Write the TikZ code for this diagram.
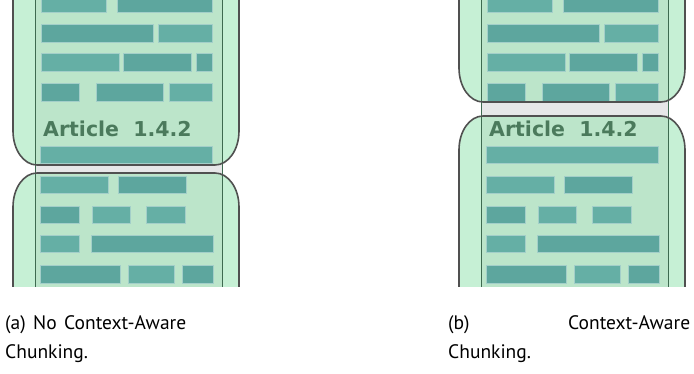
\documentclass[tikz,border=0pt]{standalone}
\usepackage{fontspec}
\setmainfont{PT Sans}
\newfontfamily\artfont{DejaVu Sans}
\definecolor{outerg}{HTML}{C6F0D5}
\definecolor{innerg}{HTML}{BCE5CA}
\definecolor{gapg}{HTML}{E6E7E8}
\definecolor{barA}{HTML}{5DA69E}
\definecolor{barB}{HTML}{65AFA5}
\definecolor{bord}{HTML}{505050}
\definecolor{coll}{HTML}{3E6A50}
\definecolor{artc}{HTML}{4B7A5C}
\tikzset{
  barA/.style={fill=barA, draw=barB!60!white, line width=0.6pt},
  barB/.style={fill=barB, draw=barB!60!white, line width=0.6pt},
  chunkborder/.style={draw=bord, line width=1.6pt},
  colline/.style={draw=coll, line width=0.9pt},
  arttext/.style={anchor=base west, inner sep=0pt, text=artc, font=\artfont\bfseries\fontsize{20.5}{24}\selectfont},
  captext/.style={anchor=base west, inner sep=0pt, font=\fontsize{19.5}{23}\selectfont}
}
% #1 name prefix, #2 xshift, #3 top chunk bottom, #4 bottom chunk top
\newcommand\chunkpanel[4]{%
\begin{scope}[xshift=#2pt]
  \begin{scope}
  \clip (0,0) rectangle (250,287);
  \fill[gapg] (35,0) rectangle (222,287);
  \fill[outerg] (13,-20) -- (13,#3-34) .. controls (13,#3-15.2) and (23.7,#3) .. (37,#3) -- (215,#3) .. controls (228.3,#3) and (239,#3-15.2) .. (239,#3-34) -- (239,-20) -- cycle;
  \fill[outerg] (13,310) -- (13,#4+34) .. controls (13,#4+15.2) and (23.7,#4) .. (37,#4) -- (215,#4) .. controls (228.3,#4) and (239,#4+15.2) .. (239,#4+34) -- (239,310) -- cycle;
  \begin{scope}
    \clip (35,0) rectangle (222,287);
    \fill[innerg] (13,-20) -- (13,#3-34) .. controls (13,#3-15.2) and (23.7,#3) .. (37,#3) -- (215,#3) .. controls (228.3,#3) and (239,#3-15.2) .. (239,#3-34) -- (239,-20) -- cycle;
    \fill[innerg] (13,310) -- (13,#4+34) .. controls (13,#4+15.2) and (23.7,#4) .. (37,#4) -- (215,#4) .. controls (228.3,#4) and (239,#4+15.2) .. (239,#4+34) -- (239,310) -- cycle;
  \end{scope}
  % text bars
  \path[barB] (41,-6) rectangle (106,12);
  \path[barA] (117,-6) rectangle (212,12);
  \path[barA] (41,24) rectangle (153,42);
  \path[barB] (158,24) rectangle (212,42);
  \path[barB] (41,53) rectangle (119,71);
  \path[barA] (123,53) rectangle (191,71);
  \path[barA] (196,53) rectangle (212,71);
  \path[barA] (41,83) rectangle (79,101);
  \path[barA] (96,83) rectangle (163,101);
  \path[barB] (169,83) rectangle (212,101);
  \node[arttext] (#1art) at (43,137) {Article\ \ 1.4.2};
  \path[barB] (40,146) rectangle (212,163);
  \path[barB] (40,176) rectangle (108,193);
  \path[barA] (118,176) rectangle (186,193);
  \path[barA] (40,206) rectangle (79,223);
  \path[barB] (92,206) rectangle (130,223);
  \path[barB] (146,206) rectangle (185,223);
  \path[barB] (40,235) rectangle (79,252);
  \path[barA] (91,235) rectangle (213,252);
  \path[barA] (40,265) rectangle (120,283);
  \path[barB] (128,265) rectangle (174,283);
  \path[barA] (182,265) rectangle (213,283);
  \draw[colline] (35,0) -- (35,287);
  \draw[colline] (222,0) -- (222,287);
  \draw[chunkborder] (13,-20) -- (13,#3-34) .. controls (13,#3-15.2) and (23.7,#3) .. (37,#3) -- (215,#3) .. controls (228.3,#3) and (239,#3-15.2) .. (239,#3-34) -- (239,-20);
  \draw[chunkborder] (13,310) -- (13,#4+34) .. controls (13,#4+15.2) and (23.7,#4) .. (37,#4) -- (215,#4) .. controls (228.3,#4) and (239,#4+15.2) .. (239,#4+34) -- (239,310);
  \end{scope}
\end{scope}}
\begin{document}
\begin{tikzpicture}[x=1pt, y=-1pt]
\useasboundingbox (0,0) rectangle (694,374);
\chunkpanel{a}{0}{165}{173}
\chunkpanel{b}{446}{102}{116}
\node[captext] (capa1) at (5,330) {\makebox[181pt][s]{(a) No Context-Aware}};
\node[captext] (capa2) at (5,358) {Chunking.};
\node[captext] (capb1) at (448,330) {\makebox[242pt][s]{(b) Context-Aware}};
\node[captext] (capb2) at (448,358) {Chunking.};
\end{tikzpicture}
\end{document}
